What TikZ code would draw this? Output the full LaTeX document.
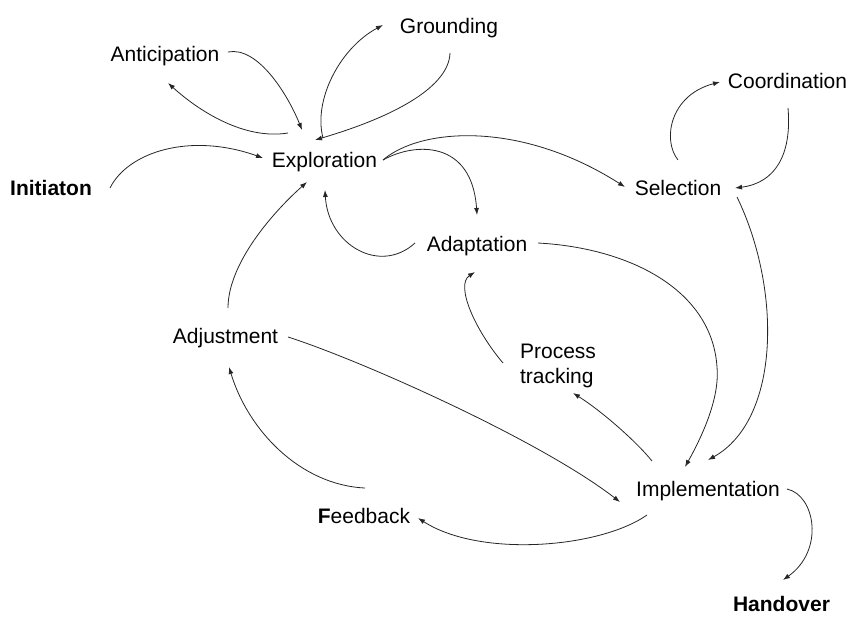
\documentclass[tikz,border=0pt]{standalone}
\usepackage{fontspec}
\setmainfont{Liberation Sans}
\usetikzlibrary{arrows.meta}

\tikzset{
  lbl/.style={font=\fontsize{21}{25}\selectfont, inner sep=0pt, anchor=base},
  flow/.style={-{Latex[length=7pt,width=5pt]}, line width=0.8pt, black!85}
}

\begin{document}
\begin{tikzpicture}[x=1pt, y=-1pt]
  \useasboundingbox (0,0) rectangle (851,616);

  % stages
  \node[lbl] (ant) at (165,61)    {Anticipation};
  \node[lbl] (gro) at (449,33)    {Grounding};
  \node[lbl] (coo) at (787.5,88)  {Coordination};
  \node[lbl] (ini) at (51,195)    {\textbf{Initiaton}};
  \node[lbl] (exp) at (324.5,167) {Exploration};
  \node[lbl] (sel) at (678,195)   {Selection};
  \node[lbl] (ada) at (477,251)   {Adaptation};
  \node[lbl] (adj) at (225.5,343) {Adjustment};
  \node[lbl, anchor=center, align=left] (pro) at (558,366) {Process\\tracking};
  \node[lbl] (fee) at (364,523)   {\textbf{F}eedback};
  \node[lbl] (imp) at (708,496)   {Implementation};
  \node[lbl] (han) at (781.5,611) {\textbf{Handover}};

  % transitions
  \draw[flow] ([shift={(63,-9)}]ant.base) .. controls (258,46) and (288,95) .. ([shift={(-22.5,-37)}]exp.base);
  \draw[flow] ([shift={(-36.5,-34)}]exp.base) .. controls (245,140) and (200,112) .. ([shift={(3,22)}]ant.base);
  \draw[flow] ([shift={(-1.5,-29)}]exp.base) .. controls (313,100) and (340,48) .. ([shift={(-66,-8)}]gro.base);
  \draw[flow] ([shift={(1,20)}]gro.base) .. controls (449,85) and (400,115) .. ([shift={(-9.5,-27)}]exp.base);
  \draw[flow] ([shift={(59,-7)}]ini.base) .. controls (128,152) and (190,132) .. ([shift={(-61.5,-9)}]exp.base);
  \draw[flow] ([shift={(58.5,-7)}]exp.base) .. controls (420,128) and (520,120) .. ([shift={(-53,-8)}]sel.base);
  \draw[flow] ([shift={(58.5,-7)}]exp.base) .. controls (415,142) and (472,140) .. ([shift={(0,-36)}]ada.base);
  \draw[flow] ([shift={(-62,-8)}]ada.base) .. controls (380,275) and (328,245) .. ([shift={(0.5,23)}]exp.base);
  \draw[flow] ([shift={(61,-8)}]ada.base) .. controls (630,248) and (712,290) .. (717,367)
                                          .. controls (720,400) and (700,440) .. ([shift={(-23,-29)}]imp.base);
  \draw[flow] ([shift={(59,2)}]sel.base) .. controls (782,290) and (780,420) .. ([shift={(0,-36)}]imp.base);
  \draw[flow] ([shift={(-55,-3)}]pro.center) .. controls (475,330) and (455,285) .. ([shift={(-2,21)}]ada.base);
  \draw[flow] ([shift={(-56,-35)}]imp.base) .. controls (635,440) and (600,410) .. ([shift={(15,27)}]pro.center);
  \draw[flow] ([shift={(2.5,-35)}]adj.base) .. controls (228,265) and (270,215) .. ([shift={(-17.5,15)}]exp.base);
  \draw[flow] ([shift={(62.5,-6)}]adj.base) .. controls (360,360) and (540,440) .. ([shift={(-88,6)}]imp.base);
  \draw[flow] ([shift={(1,-35)}]fee.base) .. controls (300,485) and (248,430) .. ([shift={(3.5,24)}]adj.base);
  \draw[flow] ([shift={(-61,19)}]imp.base) .. controls (600,548) and (480,558) .. ([shift={(54,-5)}]fee.base);
  \draw[flow] ([shift={(79,-7)}]imp.base) .. controls (815,495) and (825,550) .. ([shift={(1.5,-31)}]han.base);
  \draw[flow] ([shift={(0,-35)}]sel.base) .. controls (662,140) and (670,95) .. ([shift={(-67.5,-6)}]coo.base);
  \draw[flow] ([shift={(0.5,20)}]coo.base) .. controls (792,155) and (775,183) .. ([shift={(57,-7)}]sel.base);
\end{tikzpicture}
\end{document}
